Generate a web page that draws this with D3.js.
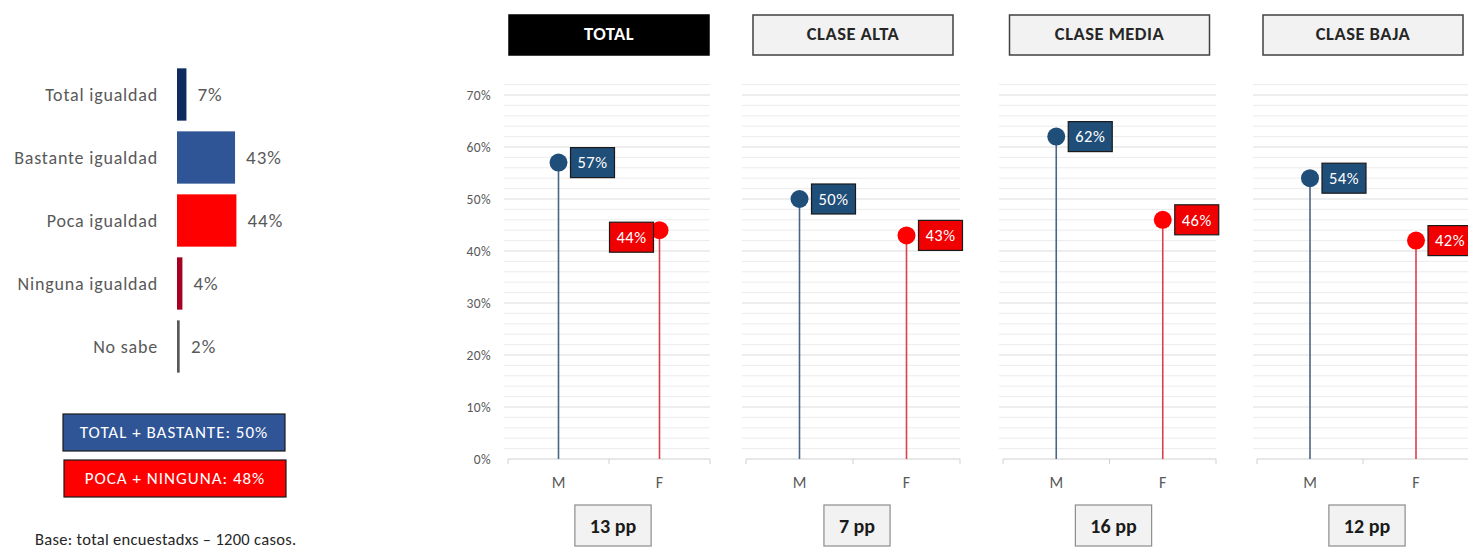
<!DOCTYPE html>
<html>
<head>
<meta charset="utf-8">
<script src="https://cdn.jsdelivr.net/npm/d3@7"></script>
<style>
  body { margin: 0; background: #fff; }
  svg { display: block; font-family: Calibri, Lato, sans-serif; }
</style>
</head>
<body>
<svg id="chart"></svg>
<script>
// Datos
const categories = ["Total igualdad", "Bastante igualdad", "Poca igualdad", "Ninguna igualdad", "No sabe"];
const shares = [7, 43, 44, 4, 2];
const summaryLabels = ["TOTAL + BASTANTE: 50%", "POCA + NINGUNA: 48%"];
const panels = ["TOTAL", "CLASE ALTA", "CLASE MEDIA", "CLASE BAJA"];
const sexes = ["M", "F"];
const valuesM = [57, 50, 62, 54];
const valuesF = [44, 43, 46, 42];
const gaps = ["13 pp", "7 pp", "16 pp", "12 pp"];
const yTicks = [0, 10, 20, 30, 40, 50, 60, 70];
const baseNote = "Base: total encuestadxs \u2013 1200 casos.";

// Configuracion
const width = 1468;
const height = 552;
const barColors = ["#0e2a5e", "#2f5597", "#ff0000", "#a50021", "#595959"];
const summaryColors = ["#2f5597", "#ff0000"];
const dotColors = { M: "#1f4e79", F: "#ff0000" };
const stemColors = { M: "#4a6585", F: "#d9414a" };
const panelRanges = [[508, 710], [746, 960], [1003, 1216], [1257, 1469]];
const textGray = "#595959";

const svg = d3.select("#chart")
    .attr("width", width)
    .attr("height", height);

// Barras de la izquierda
const yBand = d3.scaleBand()
    .domain(categories)
    .range([63, 378])
    .paddingInner(0.17)
    .paddingOuter(0.085);

const xBar = d3.scaleLinear()
    .domain([0, 50])
    .range([177, 244.5]);

const left = svg.append("g");

left.selectAll(".bar")
    .data(categories)
    .enter()
    .append("rect")
    .attr("class", "bar")
    .attr("x", xBar(0))
    .attr("y", d => yBand(d))
    .attr("width", (d, i) => Math.max(2.5, xBar(shares[i]) - xBar(0)))
    .attr("height", yBand.bandwidth())
    .attr("fill", (d, i) => barColors[i]);

left.selectAll(".cat")
    .data(categories)
    .enter()
    .append("text")
    .attr("x", 158)
    .attr("y", d => yBand(d) + yBand.bandwidth() / 2)
    .attr("dy", "0.35em")
    .attr("text-anchor", "end")
    .attr("font-size", 18)
    .attr("letter-spacing", 0.8)
    .attr("fill", textGray)
    .text(d => d);

left.selectAll(".val")
    .data(categories)
    .enter()
    .append("text")
    .attr("x", (d, i) => Math.max(xBar(shares[i]), xBar(0) + 3) + 11)
    .attr("y", d => yBand(d) + yBand.bandwidth() / 2)
    .attr("dy", "0.35em")
    .attr("font-size", 19)
    .attr("letter-spacing", 1)
    .attr("fill", textGray)
    .text((d, i) => shares[i] + "%");

// Cajas resumen
const summary = left.selectAll(".summary")
    .data(summaryLabels)
    .enter()
    .append("g")
    .attr("transform", (d, i) => `translate(${63 + i}, ${414 + i * 46})`);

summary.append("rect")
    .attr("width", 222)
    .attr("height", 37)
    .attr("fill", (d, i) => summaryColors[i])
    .attr("stroke", "#1a1a1a")
    .attr("stroke-width", 1.2);

summary.append("text")
    .attr("x", 111)
    .attr("y", 18.5)
    .attr("dy", "0.35em")
    .attr("text-anchor", "middle")
    .attr("font-size", 17)
    .attr("letter-spacing", 1)
    .attr("fill", "#fff")
    .text(d => d);

svg.append("text")
    .attr("x", 35)
    .attr("y", 545)
    .attr("font-size", 16.5)
    .attr("letter-spacing", 0.3)
    .attr("fill", "#262626")
    .text(baseNote);

// Escala vertical comun
const yScale = d3.scaleLinear()
    .domain([0, 70])
    .range([459, 95]);

const gridValues = d3.range(2, 73, 2);

panels.forEach((name, i) => {
    const [x0, x1] = panelRanges[i];
    const cx = (x0 + x1) / 2;
    const g = svg.append("g").attr("class", "panel");

    const xBand = d3.scaleBand()
        .domain(sexes)
        .range([x0, x1]);

    // Encabezado
    g.append("rect")
        .attr("x", cx - 100)
        .attr("y", 15)
        .attr("width", 200)
        .attr("height", 40)
        .attr("fill", i === 0 ? "#000" : "#f2f2f2")
        .attr("stroke", i === 0 ? "#000" : "#404040")
        .attr("stroke-width", 1.5);

    g.append("text")
        .attr("x", cx)
        .attr("y", 34)
        .attr("dy", "0.35em")
        .attr("text-anchor", "middle")
        .attr("font-size", 18.5)
        .attr("font-weight", "bold")
        .attr("letter-spacing", 0.5)
        .attr("fill", i === 0 ? "#fff" : "#262626")
        .text(name);

    // Grilla
    g.selectAll(".grid")
        .data(gridValues)
        .enter()
        .append("line")
        .attr("x1", x0 - 4)
        .attr("x2", x1)
        .attr("y1", d => yScale(d))
        .attr("y2", d => yScale(d))
        .attr("stroke", d => d % 10 === 0 ? "#dcdcdc" : "#ececec")
        .attr("stroke-width", 1);

    // Eje X
    g.append("line")
        .attr("x1", x0)
        .attr("x2", x1)
        .attr("y1", yScale(0))
        .attr("y2", yScale(0))
        .attr("stroke", "#d0d0d0");

    const bounds = sexes.map(s => xBand(s)).concat([x1]);
    g.selectAll(".tick-mark")
        .data(bounds)
        .enter()
        .append("line")
        .attr("x1", d => d)
        .attr("x2", d => d)
        .attr("y1", yScale(0))
        .attr("y2", yScale(0) + 5)
        .attr("stroke", "#d0d0d0");

    g.selectAll(".sex")
        .data(sexes)
        .enter()
        .append("text")
        .attr("x", d => xBand(d) + xBand.bandwidth() / 2)
        .attr("y", 482)
        .attr("dy", "0.35em")
        .attr("text-anchor", "middle")
        .attr("font-size", 16)
        .attr("fill", textGray)
        .text(d => d);

    // Eje Y solo en el primer panel
    if (i === 0) {
        const yAxis = d3.axisLeft(yScale)
            .tickValues(yTicks)
            .tickSize(0)
            .tickFormat(d => d + "%");
        const ga = g.append("g")
            .attr("transform", "translate(494, 0)")
            .call(yAxis);
        ga.select(".domain").remove();
        ga.selectAll("text")
            .attr("font-family", "Calibri, Lato, sans-serif")
            .attr("font-size", 13.5)
            .attr("letter-spacing", 0.4)
            .attr("fill", textGray);
    }

    // Paletas
    const vals = { M: valuesM[i], F: valuesF[i] };
    sexes.forEach(s => {
        const sx = xBand(s) + xBand.bandwidth() / 2;
        const sy = yScale(vals[s]);
        g.append("line")
            .attr("x1", sx)
            .attr("x2", sx)
            .attr("y1", yScale(0))
            .attr("y2", sy)
            .attr("stroke", stemColors[s])
            .attr("stroke-width", 1.6);
        g.append("circle")
            .attr("cx", sx)
            .attr("cy", sy)
            .attr("r", 9)
            .attr("fill", dotColors[s]);

        const onLeft = i === 0 && s === "F";
        const bw = 44;
        const bx = onLeft ? sx - 6 - bw : sx + 12;
        const by = (onLeft ? sy + 7 : sy) - 15;
        g.append("rect")
            .attr("x", bx)
            .attr("y", by)
            .attr("width", bw)
            .attr("height", 30)
            .attr("fill", s === "M" ? "#1f4e79" : "#f00000")
            .attr("stroke", "#1a1a1a")
            .attr("stroke-width", 1.2);
        g.append("text")
            .attr("x", bx + bw / 2)
            .attr("y", by + 15)
            .attr("dy", "0.35em")
            .attr("text-anchor", "middle")
            .attr("font-size", 16.5)
            .attr("letter-spacing", 0.5)
            .attr("fill", "#fff")
            .text(vals[s] + "%");
    });

    // Diferencia
    const gapBox = g.append("rect");
    const gapText = g.append("text")
        .attr("x", cx + 4)
        .attr("y", 525.5)
        .attr("dy", "0.35em")
        .attr("text-anchor", "middle")
        .attr("font-size", 20)
        .attr("font-weight", "bold")
        .attr("fill", "#1a1a1a")
        .text(gaps[i]);
    const tw = gapText.node().getComputedTextLength();
    gapBox
        .attr("x", cx + 4 - tw / 2 - 15)
        .attr("y", 505)
        .attr("width", tw + 30)
        .attr("height", 41)
        .attr("fill", "#f2f2f2")
        .attr("stroke", "#8c8c8c")
        .attr("stroke-width", 1.2);
});
</script>
</body>
</html>
